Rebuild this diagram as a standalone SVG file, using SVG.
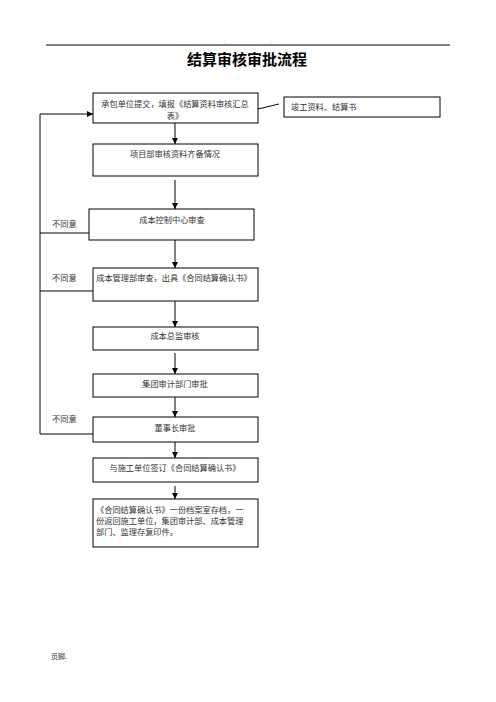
<svg xmlns="http://www.w3.org/2000/svg" width="496" height="702" viewBox="0 0 496 702">
<style>
.box{fill:#fff;stroke:#000;stroke-width:1}
.t{font-family:"Noto Sans CJK SC","Noto Sans",sans-serif;font-size:8.2px;fill:#333}
.c{text-anchor:middle}
.ln{stroke:#000;stroke-width:1;fill:none}
</style>
<defs>
<marker id="ah" markerWidth="6" markerHeight="6" refX="6" refY="3" orient="auto" markerUnits="userSpaceOnUse">
<path d="M0,0 L6,3 L0,6 Z" fill="#000"/>
</marker>
</defs>
<rect width="496" height="702" fill="#fff"/>
<g id="header">
<line x1="46" y1="45" x2="450" y2="45" stroke="#000" stroke-width="1"/>
<text x="224" y="42" class="t" style="font-size:4px">.</text>
<text x="271" y="42" class="t" style="font-size:4px">.</text>
<text x="247" y="65" text-anchor="middle" style="font-family:'Noto Sans CJK SC',sans-serif;font-size:15px;font-weight:bold;fill:#000">结算审核审批流程</text>
</g>
<g id="connectors">
<line class="ln" x1="175" y1="123" x2="175" y2="144" marker-end="url(#ah)"/>
<line class="ln" x1="175" y1="180" x2="175" y2="209" marker-end="url(#ah)"/>
<line class="ln" x1="175" y1="240" x2="175" y2="268" marker-end="url(#ah)"/>
<line class="ln" x1="175" y1="301" x2="175" y2="327" marker-end="url(#ah)"/>
<line class="ln" x1="175" y1="353" x2="175" y2="374" marker-end="url(#ah)"/>
<line class="ln" x1="175" y1="397" x2="175" y2="417" marker-end="url(#ah)"/>
<line class="ln" x1="175" y1="442" x2="175" y2="458" marker-end="url(#ah)"/>
<line class="ln" x1="175" y1="486" x2="175" y2="499" marker-end="url(#ah)"/>
<line class="ln" x1="258" y1="109" x2="279" y2="104"/>
<polyline class="ln" points="93,434 40,434 40,114 93,114" marker-end="url(#ah)"/>
<line class="ln" x1="40" y1="233" x2="89" y2="233"/>
<line class="ln" x1="40" y1="291" x2="93" y2="291"/>
<text x="52" y="227" class="t">不同意</text>
<text x="52" y="281" class="t">不同意</text>
<text x="52" y="422" class="t">不同意</text>
</g>
<g id="n1">
<rect class="box" x="93" y="93" width="165" height="30"/>
<text x="175" y="107" class="t c">承包单位提交，填报《结算资料审核汇总</text>
<text x="175" y="119" class="t c">表》</text>
</g>
<g id="n_side">
<rect class="box" x="284" y="97" width="156" height="20"/>
<text x="291" y="110" class="t">竣工资料、结算书</text>
</g>
<g id="n2">
<rect class="box" x="93" y="144" width="165" height="32"/>
<text x="175" y="157" class="t c">项目部审核资料齐备情况</text>
</g>
<g id="n3">
<rect class="box" x="89" y="209" width="165" height="31"/>
<text x="172" y="223" class="t c">成本控制中心审查</text>
</g>
<g id="n4">
<rect class="box" x="93" y="268" width="165" height="33"/>
<text x="174" y="281" class="t c">成本管理部审查，出具《合同结算确认书》</text>
</g>
<g id="n5">
<rect class="box" x="93" y="327" width="165" height="23"/>
<text x="175" y="339" class="t c">成本总监审核</text>
</g>
<g id="n6">
<rect class="box" x="93" y="374" width="165" height="23"/>
<text x="175" y="387" class="t c">集团审计部门审批</text>
</g>
<g id="n7">
<rect class="box" x="93" y="417" width="165" height="25"/>
<text x="175" y="431" class="t c">董事长审批</text>
</g>
<g id="n8">
<rect class="box" x="93" y="458" width="165" height="24"/>
<text x="175" y="471" class="t c">与施工单位签订《合同结算确认书》</text>
</g>
<g id="n9">
<rect class="box" x="93" y="499" width="165" height="48"/>
<text x="96" y="513" class="t">《合同结算确认书》一份档案室存档，一</text>
<text x="96" y="524" class="t">份返回施工单位，集团审计部、成本管理</text>
<text x="96" y="535" class="t">部门、监理存复印件。</text>
</g>
<g id="footer">
<text x="51" y="659" class="t" style="font-size:7px">页脚.</text>
</g>
</svg>
